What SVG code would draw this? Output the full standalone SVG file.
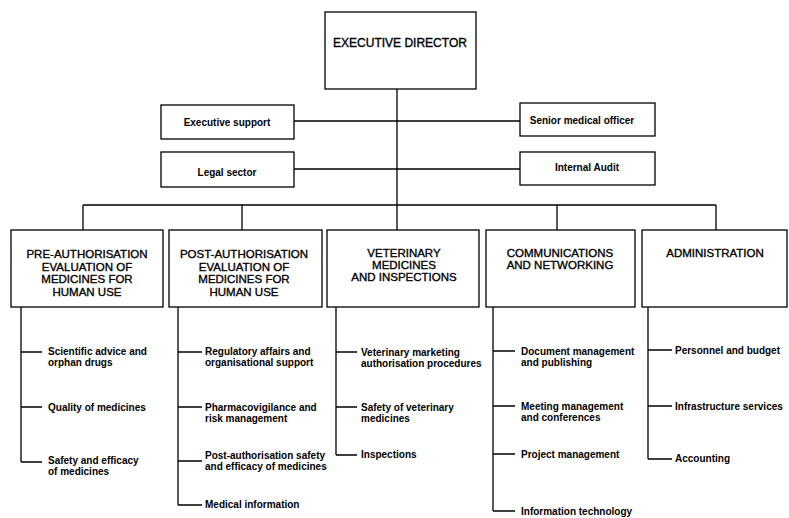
<svg xmlns="http://www.w3.org/2000/svg" width="789" height="518" viewBox="0 0 789 518">
<style>
.box{fill:#fff;stroke:#000;stroke-width:1.3}
.ln{stroke:#000;stroke-width:1.3;fill:none}
.big{font-family:"Liberation Sans",Arial,sans-serif;font-size:12px;fill:#000;stroke:#000;stroke-width:0.35;text-anchor:middle}
.dep{font-family:"Liberation Sans",Arial,sans-serif;font-size:11.5px;fill:#000;stroke:#000;stroke-width:0.35;text-anchor:middle}
.side{font-family:"Liberation Sans",Arial,sans-serif;font-size:10px;font-weight:bold;fill:#000;text-anchor:middle}
.sub{font-family:"Liberation Sans",Arial,sans-serif;font-size:10px;font-weight:bold;fill:#000}
</style>
<rect width="789" height="518" fill="#fff"/>
<g id="connectors" class="ln">
<path d="M397 89V230"/>
<path d="M294 121H520"/>
<path d="M294 169H520"/>
<path d="M83 205H716"/>
<path d="M83 205V230M242 205V230M557 205V230M716 205V230"/>
<path d="M21 307V462M21 352H42M21 407H42M21 462H42"/>
<path d="M178 307V505M178 352H202M178 407H202M178 461H202M178 505H202"/>
<path d="M336 307V455M336 352H357M336 407H357M336 455H357"/>
<path d="M493 307V511M493 351H515M493 406H515M493 454H515M493 511H515"/>
<path d="M648 307V459M648 350H672M648 406H672M648 459H672"/>
</g>
<g id="executive-director">
<rect class="box" x="325" y="12" width="151" height="77"/>
<text class="big" x="400" y="47">EXECUTIVE DIRECTOR</text>
</g>
<g id="executive-support">
<rect class="box" x="161" y="105" width="133" height="34"/>
<text class="side" x="227" y="125.5">Executive support</text>
</g>
<g id="senior-medical-officer">
<rect class="box" x="520" y="103" width="135" height="33"/>
<text class="side" x="582" y="123.5">Senior medical officer</text>
</g>
<g id="legal-sector">
<rect class="box" x="161" y="152" width="133" height="35"/>
<text class="side" x="227" y="175.5">Legal sector</text>
</g>
<g id="internal-audit">
<rect class="box" x="520" y="152" width="135" height="33"/>
<text class="side" x="587" y="170.5">Internal Audit</text>
</g>
<g id="pre-authorisation">
<rect class="box" x="11" y="230" width="152" height="77"/>
<text class="dep" x="87" y="258">PRE-AUTHORISATION</text>
<text class="dep" x="87" y="270.7">EVALUATION OF</text>
<text class="dep" x="87" y="283.4">MEDICINES FOR</text>
<text class="dep" x="87" y="296">HUMAN USE</text>
</g>
<g id="post-authorisation">
<rect class="box" x="169" y="230" width="153" height="77"/>
<text class="dep" x="244" y="258">POST-AUTHORISATION</text>
<text class="dep" x="244" y="270.7">EVALUATION OF</text>
<text class="dep" x="244" y="283.4">MEDICINES FOR</text>
<text class="dep" x="244" y="296">HUMAN USE</text>
</g>
<g id="veterinary">
<rect class="box" x="327" y="230" width="152" height="77"/>
<text class="dep" x="404" y="257">VETERINARY</text>
<text class="dep" x="404" y="269">MEDICINES</text>
<text class="dep" x="404" y="281">AND INSPECTIONS</text>
</g>
<g id="communications">
<rect class="box" x="486" y="230" width="149" height="77"/>
<text class="dep" x="560" y="257">COMMUNICATIONS</text>
<text class="dep" x="560" y="269">AND NETWORKING</text>
</g>
<g id="administration">
<rect class="box" x="642" y="230" width="145" height="77"/>
<text class="dep" x="715" y="257">ADMINISTRATION</text>
</g>
<g id="pre-items">
<text class="sub" x="48" y="355"><tspan x="48">Scientific advice and</tspan><tspan x="48" dy="11">orphan drugs</tspan></text>
<text class="sub" x="48" y="411">Quality of medicines</text>
<text class="sub" x="48" y="464"><tspan x="48">Safety and efficacy</tspan><tspan x="48" dy="11">of medicines</tspan></text>
</g>
<g id="post-items">
<text class="sub" x="205" y="355"><tspan x="205">Regulatory affairs and</tspan><tspan x="205" dy="11">organisational support</tspan></text>
<text class="sub" x="205" y="410.5"><tspan x="205">Pharmacovigilance and</tspan><tspan x="205" dy="11">risk management</tspan></text>
<text class="sub" x="205" y="458.5"><tspan x="205">Post-authorisation safety</tspan><tspan x="205" dy="11">and efficacy of medicines</tspan></text>
<text class="sub" x="205" y="508">Medical information</text>
</g>
<g id="vet-items">
<text class="sub" x="361" y="355.5"><tspan x="361">Veterinary marketing</tspan><tspan x="361" dy="11">authorisation procedures</tspan></text>
<text class="sub" x="361" y="410.5"><tspan x="361">Safety of veterinary</tspan><tspan x="361" dy="11">medicines</tspan></text>
<text class="sub" x="361" y="458">Inspections</text>
</g>
<g id="comm-items">
<text class="sub" x="521" y="354.5"><tspan x="521">Document management</tspan><tspan x="521" dy="11">and publishing</tspan></text>
<text class="sub" x="521" y="409.5"><tspan x="521">Meeting management</tspan><tspan x="521" dy="11">and conferences</tspan></text>
<text class="sub" x="521" y="457.5">Project management</text>
<text class="sub" x="521" y="515">Information technology</text>
</g>
<g id="admin-items">
<text class="sub" x="675" y="353.5">Personnel and budget</text>
<text class="sub" x="675" y="409.5">Infrastructure services</text>
<text class="sub" x="675" y="462">Accounting</text>
</g>
</svg>
